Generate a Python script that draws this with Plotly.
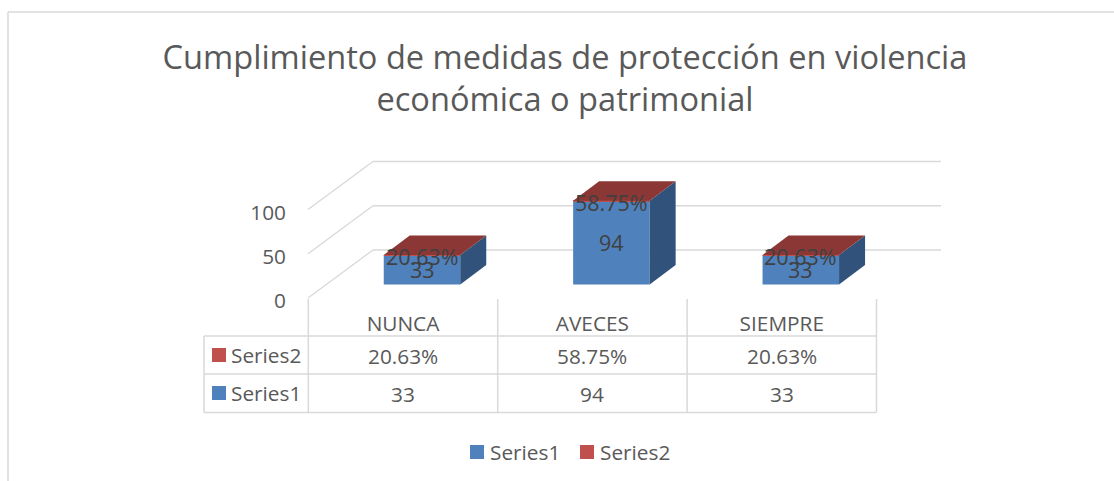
import plotly.graph_objects as go

categories = ["NUNCA", "AVECES", "SIEMPRE"]
series1 = [33, 94, 33]
series2 = [0.2063, 0.5875, 0.2063]
y_ticks = [0, 50, 100]
title = "Cumplimiento de medidas de protección en violencia<br>económica o patrimonial"

W, H = 1114, 481
FONT = "Open Sans"
FS = 20.8
BAR_FS = 21.5
GREY = "#595959"
GRID = "#D9D9D9"
BLUE = "#4F81BD"
RED = "#C0504D"
TOP = "#8A3735"
SIDE = "#31527A"

# pixel scale of the two axes
X0, XU = 403.0, 189.4   # centre of first category, px per category
Y0, YU = 298.0, 0.885   # value 0, px per value unit
def px2x(p): return (p - X0) / XU
def px2y(p): return (Y0 - p) / YU
def fx(p): return p / W
def fy(p): return 1 - p / H

bar_w = 76.5 / XU
front_dx, front_dy = 19.0 / XU, 13.5 / YU
depth_dx, depth_dy = 26.0 / XU, 19.5 / YU
back_dx, back_dy = 65.0 / XU, 48.0 / YU
col_edges = [X0 + (i - 0.5) * XU for i in range(len(categories) + 1)]
row_edges = [336, 374, 412.5]
table_left = 204

fig = go.Figure()
xs = [i + front_dx for i in range(len(categories))]
fig.add_bar(x=xs, y=series1, base=front_dy, width=bar_w, name="Series1",
            marker=dict(color=BLUE, line_width=0), hoverinfo="skip", showlegend=False)
fig.add_bar(x=xs, y=series2, base=[front_dy + v for v in series1], width=bar_w, name="Series2",
            marker=dict(color=RED, line_width=0), hoverinfo="skip", showlegend=False)

for xc, v1, v2 in zip(xs, series1, series2):
    l, r = xc - bar_w / 2, xc + bar_w / 2
    b, t = front_dy, front_dy + v1 + v2
    fig.add_scatter(x=[r, r + depth_dx, r + depth_dx, r, r],
                    y=[b, b + depth_dy, t + depth_dy, t, b],
                    fill="toself", fillcolor=SIDE, mode="lines", line=dict(width=0),
                    showlegend=False, hoverinfo="skip")
    fig.add_scatter(x=[l, r, r + depth_dx, l + depth_dx, l],
                    y=[t, t, t + depth_dy, t + depth_dy, t],
                    fill="toself", fillcolor=TOP, mode="lines", line=dict(width=0),
                    showlegend=False, hoverinfo="skip")
    fig.add_annotation(x=xc, y=front_dy + v1 / 2, text=str(v1), showarrow=False,
                       font=dict(family=FONT, size=BAR_FS, color="#404040"))
    fig.add_annotation(x=xc, y=front_dy + v1 - 1.0, text=f"{v2:.2%}", showarrow=False,
                       font=dict(family=FONT, size=BAR_FS, color="#404040"))

# gridlines: front-left edge to back wall, then along the back wall
right_end = px2x(941)
front_x = px2x(308)
for t in y_ticks:
    fig.add_shape(type="line", layer="below", x0=front_x, y0=t, x1=front_x + back_dx, y1=t + back_dy,
                  line=dict(color=GRID, width=1.3))
    fig.add_shape(type="line", layer="below", x0=front_x + back_dx, y0=t + back_dy, x1=right_end, y1=t + back_dy,
                  line=dict(color=GRID, width=1.3))

# data table
def pline(x0, y0, x1, y1, w=1.5):
    fig.add_shape(type="line", xref="paper", yref="paper", x0=fx(x0), y0=fy(y0), x1=fx(x1), y1=fy(y1),
                  line=dict(color=GRID, width=w), layer="below")
for e in col_edges:
    pline(e, 299, e, row_edges[-1])
for r in row_edges:
    pline(table_left, r, col_edges[-1], r)
pline(table_left, row_edges[0], table_left, row_edges[-1])

def cell(xp, yp, text, anchor="center"):
    fig.add_annotation(xref="paper", yref="paper", x=fx(xp), y=fy(yp), text=text, showarrow=False,
                       xanchor=anchor, yanchor="middle",
                       font=dict(family=FONT, size=FS, color=GREY))

for i, (v1, v2) in enumerate(zip(series1, series2)):
    xc = X0 + i * XU
    cell(xc, 356, f"{v2:.2%}")
    cell(xc, 393.5, str(v1))

def key(x_sw, yp, name, color, text_x):
    fig.add_shape(type="rect", xref="paper", yref="paper", x0=fx(x_sw), x1=fx(x_sw + 14),
                  y0=fy(yp - 7), y1=fy(yp + 7), fillcolor=color, line_width=0)
    cell(text_x, yp, name, "left")

key(212, 355, "Series2", RED, 229)
key(212, 393, "Series1", BLUE, 229)
key(470, 452, "Series1", BLUE, 488)
key(580, 452, "Series2", RED, 598)

# chart frame
pline(8, 12, W, 12, 1.5)
pline(8, 12, 8, H, 1.5)

fig.update_layout(
    width=W, height=H, autosize=False,
    margin=dict(l=0, r=0, t=0, b=0),
    paper_bgcolor="white", plot_bgcolor="white",
    barmode="overlay",
    showlegend=False,
    title=dict(text=title, x=565 / W, xanchor="center", y=fy(69), yanchor="top",
               font=dict(family=FONT, size=32.6, color=GREY)),
    xaxis=dict(domain=[0, 1], range=[px2x(0), px2x(W)], tickmode="array",
               tickvals=list(range(len(categories))), ticktext=categories,
               anchor="free", position=fy(309), showgrid=False, zeroline=False, showline=False,
               ticks="", tickfont=dict(family=FONT, size=FS, color=GREY), automargin=False),
    yaxis=dict(domain=[0, 1], range=[px2y(H), px2y(0)], tickmode="array",
               tickvals=y_ticks, anchor="free", position=fx(286), side="left",
               showgrid=False, zeroline=False, showline=False, ticks="", ticklabelshift=3,
               tickfont=dict(family=FONT, size=FS, color=GREY), automargin=False),
)

fig.write_html("out.html", config={"displayModeBar": False},
               post_script="document.body.style.margin='0';")
